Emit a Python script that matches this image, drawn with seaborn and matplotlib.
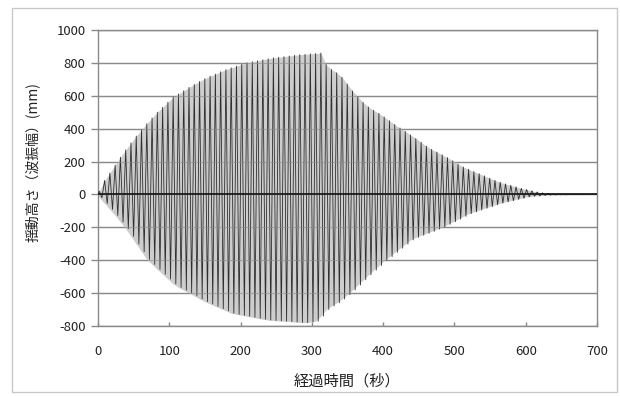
import numpy as np
import pandas as pd
import matplotlib
matplotlib.use("Agg")
import matplotlib.pyplot as plt
from matplotlib.patches import Rectangle
import seaborn as sns

# ---- data ----
period_s = 7.4  # oscillation period (s)
upper_peaks = [
    20, 85, 130, 178, 226, 271, 313, 355, 394, 430,
    465, 500, 530, 561, 591, 611, 631, 651, 669, 687,
    704, 719, 732, 746, 759, 770, 780, 791, 801, 807,
    813, 819, 825, 831, 834, 838, 842, 846, 850, 852,
    855, 857, 860, 790, 760, 740, 713, 671, 630, 595,
    560, 532, 512, 493, 471, 448, 425, 404, 383, 362,
    340, 317, 294, 274, 258, 241, 224, 205, 185, 167,
    153, 139, 126, 113, 99, 86, 74, 64, 55, 46,
    37, 30, 22, 15, 10, 7, 4, 3, 2, 2,
    1, 1, 1, 0, 0,
]
lower_peaks = [
    -20, -55, -91, -128, -168, -208, -255, -302, -348, -395,
    -426, -456, -485, -514, -544, -565, -582, -599, -617, -635,
    -652, -666, -680, -694, -708, -722, -729, -735, -741, -747,
    -753, -759, -764, -767, -769, -771, -773, -776, -778, -780,
    -776, -771, -740, -700, -678, -659, -636, -610, -581, -551,
    -519, -489, -460, -432, -403, -378, -352, -327, -302, -276,
    -261, -248, -236, -224, -211, -199, -182, -166, -150, -133,
    -117, -106, -95, -84, -74, -63, -53, -45, -38, -30,
    -23, -15, -11, -9, -6, -4, -3, -2, -2, -1,
    -1, -1, 0, 0, 0,
]
x_ticks = [0, 100, 200, 300, 400, 500, 600, 700]
y_ticks = [-800, -600, -400, -200, 0, 200, 400, 600, 800, 1000]
x_label = "経過時間（秒）"
y_label = "揺動高さ（波振幅）(mm)"

# ---- build the series: alternating crest / trough of each cycle ----
times = [0.0]
values = [0.0]
crest_t = [0.0]
for i, (up, lo) in enumerate(zip(upper_peaks, lower_peaks)):
    tc = period_s * i + period_s * 0.25
    tt = period_s * i + period_s * 0.75
    times += [tc, tt]
    values += [up, lo]
    crest_t.append(tc)
df = pd.DataFrame({"t": times, "h": values})
env = pd.DataFrame({"t": crest_t, "up": [0] + upper_peaks,
                    "lo": [0] + lower_peaks})

sns.set_theme(style="white")
plt.rcParams["font.family"] = ["Noto Sans CJK JP", "DejaVu Sans"]

fig = plt.figure(figsize=(6.2, 3.96), dpi=100)
ax = fig.add_axes([98 / 620, 1 - 326 / 396, 499 / 620, 296 / 396])

# light grey band produced by the dense oscillation
ax.fill_between(env["t"], env["lo"], env["up"], color="#cdcdcd", lw=0,
                zorder=2)
sns.lineplot(data=df, x="t", y="h", ax=ax, color="#2e2e2e", lw=0.6,
             estimator=None, sort=False, zorder=3)

ax.set_xlim(0, 700)
ax.set_ylim(-800, 1000)
ax.set_xticks(x_ticks)
ax.set_yticks(y_ticks)
ax.set_xticklabels([str(v) for v in x_ticks], fontsize=9.5, color="#222222")
ax.set_yticklabels([str(v) for v in y_ticks], fontsize=9.5, color="#222222")

for v in y_ticks:
    ax.axhline(v, color="#8a8a8a", lw=1.0, zorder=1)
    ax.axhline(v, color="#8a8a8a", lw=0.8, alpha=0.6, zorder=3.5)
ax.axhline(0, color="#111111", lw=1.2, zorder=4)

for s in ax.spines.values():
    s.set_color("#8a8a8a")
    s.set_linewidth(1.0)
    s.set_visible(True)

ax.tick_params(axis="y", direction="out", length=5, width=1, color="#8a8a8a",
               pad=4, left=True)
ax.tick_params(axis="x", direction="in", length=3, width=1, color="#8a8a8a",
               pad=14, bottom=True)

ax.set_xlabel(x_label, fontsize=11, color="#222222")
ax.set_ylabel(y_label, fontsize=10, color="#222222")
ax.xaxis.set_label_coords(0.5, (326 - 381) / 296)
ax.xaxis.label.set_va("center")
ax.yaxis.set_label_coords((32 - 98) / 499, (326 - 162) / 296)
ax.yaxis.label.set_va("center")

fig.patches.append(Rectangle((12 / 620, 4 / 396), 605 / 620, 384 / 396,
                             transform=fig.transFigure, fill=False,
                             ec="#c8c8c8", lw=1))

fig.savefig("out.png", dpi=100)
